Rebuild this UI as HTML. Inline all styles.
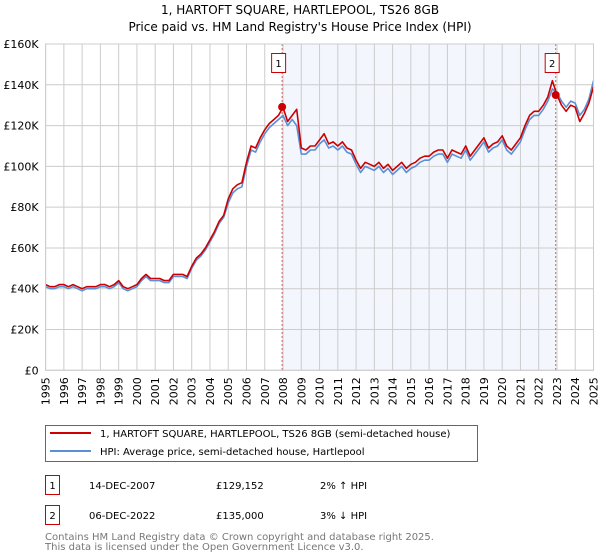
<!DOCTYPE html>
<html><head><meta charset="utf-8"><style>
body{margin:0;background:#fff;width:600px;height:560px;overflow:hidden;font-family:"DejaVu Sans","Liberation Sans",sans-serif;}
svg{display:block}
</style></head><body>
<svg id="chart" width="600" height="560" xmlns="http://www.w3.org/2000/svg" font-family="DejaVu Sans, Liberation Sans, sans-serif">
<text x="300" y="14" text-anchor="middle" font-size="12">1, HARTOFT SQUARE, HARTLEPOOL, TS26 8GB</text>
<text x="300" y="31" text-anchor="middle" font-size="12">Price paid vs. HM Land Registry's House Price Index (HPI)</text>
<g id="plot"></g>
<g>
<rect x="45.5" y="425.5" width="432" height="36" fill="#fff" stroke="#666"/>
<line x1="50" y1="433" x2="91" y2="433" stroke="#cc0000" stroke-width="2"/>
<text x="100" y="437" font-size="10">1, HARTOFT SQUARE, HARTLEPOOL, TS26 8GB (semi-detached house)</text>
<line x1="50" y1="451" x2="91" y2="451" stroke="#5b8fd6" stroke-width="2"/>
<text x="100" y="455" font-size="10">HPI: Average price, semi-detached house, Hartlepool</text>
</g>
<g font-size="10">
<rect x="45.5" y="475.5" width="14" height="19" fill="#fff" stroke="#cc0000"/>
<text x="52.5" y="489" text-anchor="middle">1</text>
<text x="89" y="489">14-DEC-2007</text><text x="216" y="489">£129,152</text><text x="320" y="489">2% ↑ HPI</text>
<rect x="45.5" y="505.5" width="14" height="19" fill="#fff" stroke="#cc0000"/>
<text x="52.5" y="519" text-anchor="middle">2</text>
<text x="89" y="519">06-DEC-2022</text><text x="216" y="519">£135,000</text><text x="320" y="519">3% ↓ HPI</text>
</g>
<text x="45" y="540" font-size="10" fill="#777">Contains HM Land Registry data © Crown copyright and database right 2025.</text>
<text x="45" y="550" font-size="10" fill="#777">This data is licensed under the Open Government Licence v3.0.</text>
</svg>
<script>
const years=[1995,1996,1997,1998,1999,2000,2001,2002,2003,2004,2005,2006,2007,2008,2009,2010,2011,2012,2013,2014,2015,2016,2017,2018,2019,2020,2021,2022,2023,2024,2025];
const yTicks=[0,20,40,60,80,100,120,140,160];
const hpi=[41,40,40,41, 41,40,41,40, 39,40,40,40, 41,41,40,41, 43,40,39,40, 41,44,46,44, 44,44,43,43, 46,46,46,45, 50,54,56,59, 63,67,72,75, 82,87,89,90, 100,108,107,112, 116,119,121,123, 125,120,123,120, 106,106,108,108, 111,113,109,110, 108,110,107,106, 101,97,100,99, 98,100,97,99, 96,98,100,97, 99,100,102,103, 103,105,106,106, 102,106,105,104, 108,103,106,109, 112,107,109,110, 113,108,106,109, 112,118,123,125, 125,128,132,138, 136,132,129,132, 131,125,128,133, 142];
const paid=[42,41,41,42, 42,41,42,41, 40,41,41,41, 42,42,41,42, 44,41,40,41, 42,45,47,45, 45,45,44,44, 47,47,47,46, 51,55,57,60, 64,68,73,76, 84,89,91,92, 102,110,109,114, 118,121,123,125, 129,122,125,128, 109,108,110,110, 113,116,111,112, 110,112,109,108, 103,99,102,101, 100,102,99,101, 98,100,102,99, 101,102,104,105, 105,107,108,108, 104,108,107,106, 110,105,108,111, 114,109,111,112, 115,110,108,111, 114,120,125,127, 127,130,134,142, 135,130,127,130, 129,122,126,131, 139];
const saleDates=[2007.95,2022.93];
const salePrices=[129.152,135];
const saleLabels=["1","2"];
const X0=45.6,X1=593.5,Y0=370.3,Y1=44;
const xs=t=>X0+(t-1995)/30*(X1-X0);
const ys=v=>Y0-v/160*(Y0-Y1);
const NS="http://www.w3.org/2000/svg";
const g=document.getElementById('plot');
function mk(tag,attrs){const e=document.createElementNS(NS,tag);for(const k in attrs)e.setAttribute(k,attrs[k]);g.appendChild(e);return e;}
let r=mk('rect',{x:xs(saleDates[0]),y:Y1,width:xs(saleDates[1])-xs(saleDates[0]),height:Y0-Y1,fill:'#f3f6fd'});


years.forEach(yr=>{
 let l=mk('line',{x1:xs(yr),x2:xs(yr),y1:Y1,y2:Y0,stroke:'#cccccc','stroke-width':1});
 
 
 let t=mk('text',{x:0,y:0,'font-size':11,'text-anchor':'end',transform:`translate(${xs(yr)+4},${Y0+7}) rotate(-90)`});
 
 
 t.textContent=yr;
});
yTicks.forEach(v=>{
 let l=mk('line',{x1:X0,x2:X1,y1:ys(v),y2:ys(v),stroke:'#cccccc','stroke-width':1});
 
 
 let t=mk('text',{x:X0-7,y:ys(v)+4,'font-size':11,'text-anchor':'end'});
 
 
 t.textContent=v===0?'£0':'£'+v+'K';
});
saleDates.forEach((d,i)=>{
 let l=mk('line',{x1:xs(d),x2:xs(d),y1:Y1,y2:Y0,stroke:'#e06060','stroke-width':1,'stroke-dasharray':'2,2'});
 
 
});
function path(arr,color,name){
 const d=arr.map((v,i)=>(i?'L':'M')+xs(1995+i*0.25).toFixed(1)+','+ys(v).toFixed(1)).join('');
 let p=mk('path',{d:d,fill:'none',stroke:color,'stroke-width':1.6,'stroke-linejoin':'round'});
 
 
}
path(hpi,'#5b8fd6','hpi-line');
path(paid,'#cc0000','price-paid-line');
saleDates.forEach((d,i)=>{
 let c=mk('circle',{cx:xs(d),cy:ys(salePrices[i]),r:4,fill:'#cc0000'});
 
 
 let b=mk('rect',{x:xs(d)-10.5,y:53.5,width:14,height:19,fill:'#fff',stroke:'#cc0000'});
 
 
 let t=mk('text',{x:xs(d)-3.5,y:67,'font-size':10,'text-anchor':'middle'});
 
 
 t.textContent=saleLabels[i];
});
let fr=mk('rect',{x:X0,y:Y1,width:X1-X0,height:Y0-Y1,fill:'none',stroke:'#cccccc'});


</script>
</body></html>
